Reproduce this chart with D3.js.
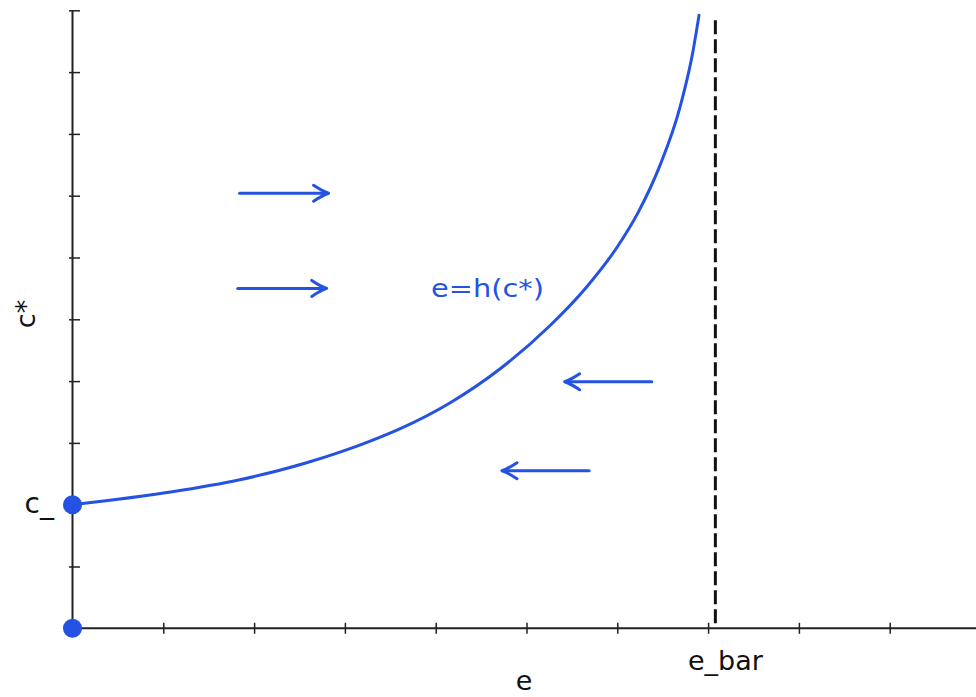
<!DOCTYPE html>
<html>
<head>
<meta charset="utf-8">
<title>e = h(c*)</title>
<script src="https://cdnjs.cloudflare.com/ajax/libs/d3/7.8.5/d3.min.js"></script>
<style>
body { margin: 0; background: #fff; }
text { font-family: "DejaVu Sans", sans-serif; }
</style>
</head>
<body>
<script>
// curve e = h(c*) (e, c*)
var curveE = [0, 1.10, 1.83, 2.56, 3.30, 3.61, 4.16, 4.71, 5.26, 5.66, 5.99, 6.23, 6.47, 6.69, 6.83, 6.90];
var curveC = [2.00, 2.21, 2.40, 2.67, 3.04, 3.23, 3.65, 4.20, 4.90, 5.52, 6.15, 6.73, 7.49, 8.43, 9.31, 9.92];

var cLow = 2;        // c_
var eBar = 7.08;     // e_bar
var eBarTop = 9.84;

var xTicks = [1, 2, 3, 4, 5, 6, 7, 8, 9];
var yTicks = [1, 2, 3, 4, 5, 6, 7, 8, 9, 10];

// arrows: [from e, to e, at c*]
var arrowFrom = [1.84, 1.82, 6.38, 5.69];
var arrowTo   = [2.82, 2.80, 5.42, 4.73];
var arrowAt   = [7.04, 5.50, 3.99, 2.55];

var blue = "#2452e2";
var w = 976, h = 697;

var x = d3.scaleLinear().domain([0, 10]).range([72.5, 980.5]);
var y = d3.scaleLinear().domain([0, 10]).range([628.3, 10.3]);

var svg = d3.select("body").append("svg")
    .attr("width", w)
    .attr("height", h);

// axis lines
svg.append("line")
    .attr("x1", x(0)).attr("x2", w)
    .attr("y1", y(0)).attr("y2", y(0))
    .attr("stroke", "#222").attr("stroke-width", 2);
svg.append("line")
    .attr("x1", x(0)).attr("x2", x(0))
    .attr("y1", y(0)).attr("y2", y(10))
    .attr("stroke", "#222").attr("stroke-width", 2);

var xAxis = svg.append("g")
    .attr("transform", "translate(0," + (y(0) - 5.5) + ")")
    .call(d3.axisBottom(x).tickValues(xTicks).tickSize(11).tickFormat(""));
xAxis.select(".domain").remove();
xAxis.selectAll(".tick line").attr("stroke", "#222").attr("stroke-width", 1.5);

var yAxis = svg.append("g")
    .attr("transform", "translate(" + (x(0) - 3.5) + ",0)")
    .call(d3.axisRight(y).tickValues(yTicks).tickSize(11).tickFormat(""));
yAxis.select(".domain").remove();
yAxis.selectAll(".tick line").attr("stroke", "#222").attr("stroke-width", 1.5);

// dashed e_bar line
svg.append("line")
    .attr("x1", x(eBar)).attr("x2", x(eBar))
    .attr("y1", y(eBarTop)).attr("y2", y(0))
    .attr("stroke", "#111")
    .attr("stroke-width", 3)
    .attr("stroke-dasharray", "14,5");

// the curve
var pts = curveE.map(function(d, i) { return [d, curveC[i]]; });
var line = d3.line()
    .x(function(d) { return x(d[0]); })
    .y(function(d) { return y(d[1]); })
    .curve(d3.curveMonotoneX);
svg.append("path")
    .attr("d", line(pts))
    .attr("fill", "none")
    .attr("stroke", blue)
    .attr("stroke-width", 3)
    .attr("stroke-linecap", "round");

// arrows
for (var i = 0; i < arrowFrom.length; i++) {
  var x1 = x(arrowFrom[i]), x2 = x(arrowTo[i]), yy = y(arrowAt[i]);
  var dir = x2 > x1 ? 1 : -1;
  svg.append("line")
      .attr("x1", x1).attr("x2", x2 - dir * 1)
      .attr("y1", yy).attr("y2", yy)
      .attr("stroke", blue).attr("stroke-width", 3)
      .attr("stroke-linecap", "round");
  svg.append("path")
      .attr("d", "M" + (x2 - dir * 15) + "," + (yy - 8) +
                 "Q" + (x2 - dir * 6) + "," + (yy - 2) + " " + x2 + "," + yy +
                 "Q" + (x2 - dir * 6) + "," + (yy + 2) + " " + (x2 - dir * 15) + "," + (yy + 8))
      .attr("fill", "none")
      .attr("stroke", blue).attr("stroke-width", 3)
      .attr("stroke-linecap", "round")
      .attr("stroke-linejoin", "round");
}

// dots
svg.selectAll(".dot")
    .data([[0, 0], [0, cLow]])
    .enter().append("circle")
    .attr("class", "dot")
    .attr("cx", function(d) { return x(d[0]); })
    .attr("cy", function(d) { return y(d[1]); })
    .attr("r", 9.5)
    .attr("fill", blue);

// labels
svg.append("text")
    .attr("x", 524).attr("y", 690)
    .attr("text-anchor", "middle")
    .attr("font-size", 27)
    .attr("fill", "#111")
    .text("e");

svg.append("text")
    .attr("x", x(eBar) + 10).attr("y", 670)
    .attr("text-anchor", "middle")
    .attr("font-size", 27)
    .attr("fill", "#111")
    .text("e_bar");

svg.append("text")
    .attr("x", 54).attr("y", y(cLow) + 8)
    .attr("text-anchor", "end")
    .attr("font-size", 28)
    .attr("fill", "#111")
    .text("c_");

svg.append("text")
    .attr("transform", "translate(35,314) rotate(-90)")
    .attr("text-anchor", "middle")
    .attr("font-size", 27)
    .attr("fill", "#111")
    .text("c*");

svg.append("text")
    .attr("x", 431).attr("y", 297)
    .attr("font-size", 25)
    .attr("fill", blue)
    .attr("textLength", 113)
    .attr("lengthAdjust", "spacingAndGlyphs")
    .text("e=h(c*)");
</script>
</body>
</html>
